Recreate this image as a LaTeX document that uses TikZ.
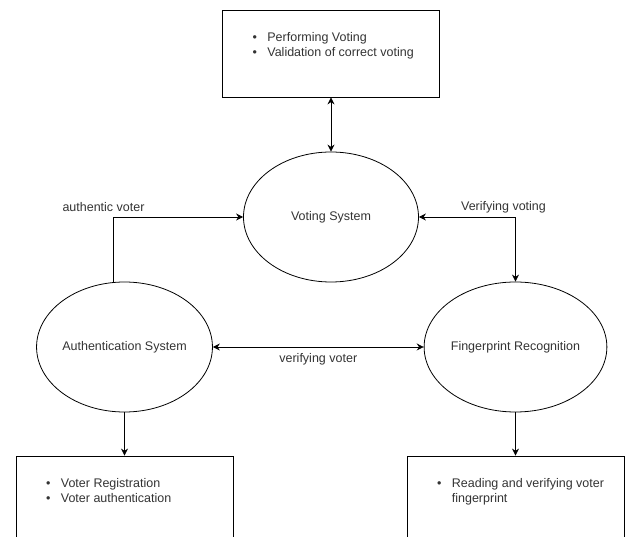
\documentclass[tikz,border=0pt]{standalone}
\usepackage{fontspec}
\setmainfont{Liberation Sans}
\usepackage{tikz}
\usetikzlibrary{arrows.meta,positioning,shapes}

\newcommand{\itemlist}[1]{\begin{tabular}{@{}c@{\hspace{10.5pt}}l@{}}#1\end{tabular}}

\begin{document}
\begin{tikzpicture}[x=1pt,y=-1pt,line width=0.8pt,
    >={Stealth[length=7pt,width=7pt]},
    font=\fontsize{12.5}{15.5}\selectfont,
    every node/.style={text=black!80},
    sys/.style={draw, ellipse, minimum width=175pt, minimum height=130pt, inner sep=0pt},
    box/.style={draw, rectangle, minimum width=217pt, inner sep=0pt},
    items/.style={inner sep=0pt, align=left}]
  \useasboundingbox (0,0) rectangle (625,537);
  \clip (0,0) rectangle (625,537);
  % subsystems
  \node[sys] (voting) at (331,217) {Voting System};
  \node[sys] (auth) at (124.5,347) {Authentication System};
  \node[sys] (finger) at (515.5,347) {Fingerprint Recognition};
  % task boxes
  \node[box, minimum height=87pt] (votebox) at (331,53.5) {};
  \node[box, minimum height=130pt] (authbox) at (124.5,521) {};
  \node[box, minimum height=130pt] (fingerbox) at (515.5,521) {};
  \node[items, below right=20.3pt and 30pt of votebox.north west] (votelist)
    {\itemlist{\textbullet & Performing Voting\\ \textbullet & Validation of correct voting}};
  \node[items, below right=20.3pt and 30pt of authbox.north west] (authlist)
    {\itemlist{\textbullet & Voter Registration\\ \textbullet & Voter authentication}};
  \node[items, below right=20.3pt and 30pt of fingerbox.north west] (fingerlist)
    {\itemlist{\textbullet & Reading and verifying voter\\ & fingerprint}};
  \path[<->]
    (voting) edge (votebox);
  \path[->]
    (auth) edge (authbox)
    (finger) edge (fingerbox);
  \draw[->] ([xshift=-11pt]auth.north) |-
    node[pos=0.5, shift={(-10pt,10pt)}] (avlabel) {authentic voter} (voting.west);
  \draw[<->] (voting.east) -|
    node[pos=0.5, shift={(-12pt,10pt)}] (vvlabel) {Verifying voting} (finger.north);
  \draw[<->] (auth.east) --
    node[midway, yshift=-12pt] (vrlabel) {verifying voter} (finger.west);
\end{tikzpicture}
\end{document}
